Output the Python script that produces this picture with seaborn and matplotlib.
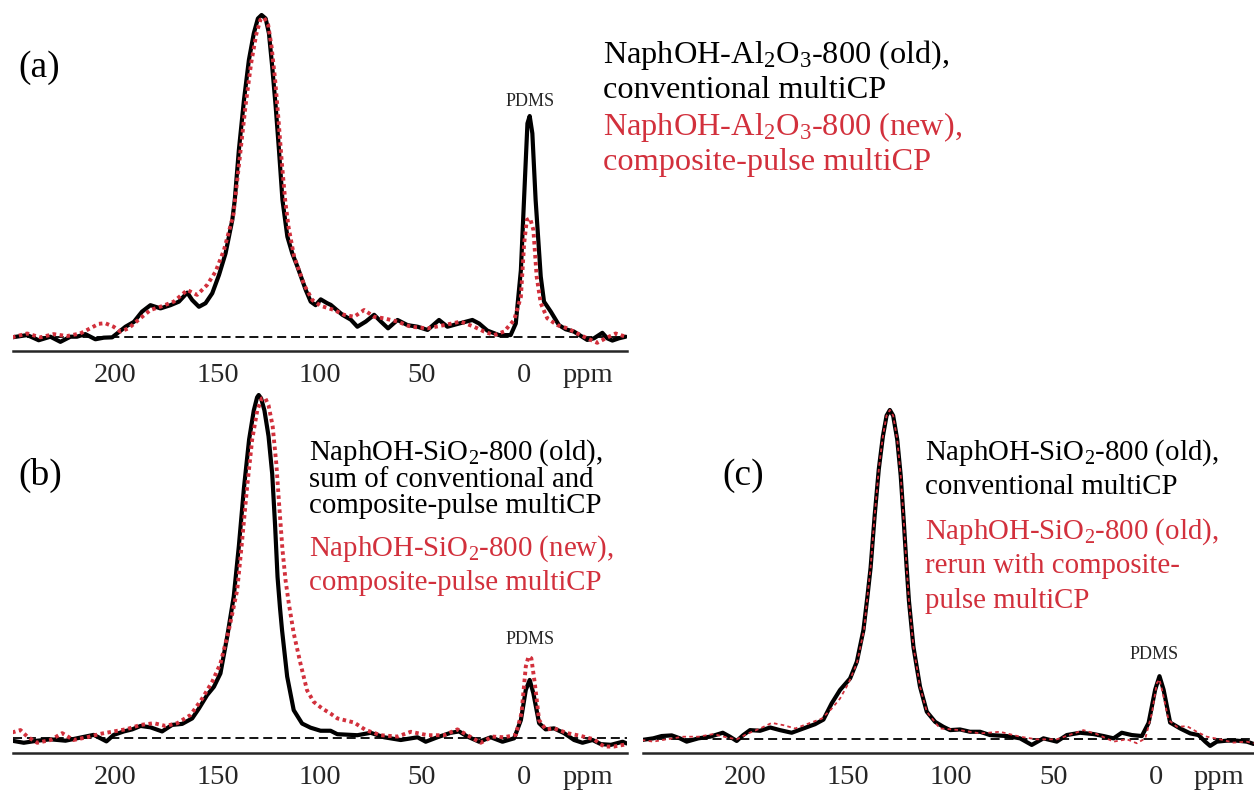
import numpy as np
import pandas as pd
import seaborn as sns
import matplotlib.pyplot as plt
from matplotlib.ticker import FixedLocator

sns.set_style('white')
plt.rcParams['font.family'] = ['Liberation Serif', 'DejaVu Serif']
plt.rcParams['mathtext.fontset'] = 'custom'
plt.rcParams['mathtext.rm'] = 'Liberation Serif'
plt.rcParams['mathtext.it'] = 'Liberation Serif:italic'
plt.rcParams['mathtext.default'] = 'regular'

# axis ticks (ppm)
tick_values = [200, 150, 100, 50, 0]
tick_labels = ['200', '150', '100', '50', '0']
minor_ticks = list(range(-40, 250, 10))
unit_pos = -31

# panel (a): NaphOH-Al2O3-800, old (black) vs new (red)
a_ppm_old = [250.3, 242.9, 237.3, 231.6, 226.7, 221.8, 218.6, 214.5, 209.6, 205.5, 201.4, 199.0, 194.9, 190.8,
             186.8, 182.7, 177.8, 172.9, 168.8, 164.7, 162.3, 159.0, 155.8, 152.5, 149.2, 146.0, 142.7, 141.5,
             139.5, 137.0, 134.6, 132.2, 130.2, 128.4, 126.4, 124.8, 123.2, 121.5, 119.9, 118.2, 115.8, 113.4,
             110.9, 106.8, 104.4, 102.0, 99.5, 96.3, 94.6, 88.9, 84.8, 81.6, 77.5, 73.4, 70.1, 66.6, 62.0, 57.1,
             52.2, 47.3, 41.7, 37.6, 31.9, 25.4, 22.1, 18.1, 12.4, 6.7, 4.2, 1.7, -0.4, -1.5, -2.6, -3.9, -5.5,
             -8.0, -9.6, -12.9, -16.9, -20.2, -24.2, -30.7, -34.0, -38.1, -40.5, -43.0, -46.2, -49.5]
a_int_old = [-0.2, 0.5, -1.1, 0.0, -1.6, 0.0, 0.0, 0.8, -0.8, -0.3, -0.2, 1.0, 3.1, 4.6,
             7.8, 9.8, 8.8, 9.8, 10.9, 13.7, 11.4, 9.3, 10.4, 13.5, 19.2, 25.9, 36.3, 42.5,
             58.0, 73.6, 86.0, 94.3, 98.9, 100.0, 98.9, 94.3, 83.9, 71.5, 58.0, 42.5, 31.1, 25.9,
             21.8, 14.5, 10.9, 9.8, 11.6, 10.4, 9.9, 6.8, 5.3, 3.1, 4.7, 6.8, 4.7, 2.6, 5.2, 3.6,
             3.1, 2.1, 5.2, 3.1, 4.1, 5.2, 4.1, 1.9, 0.5, 0.5, 4.1, 20.7, 50.7, 66.3, 68.6, 63.2, 42.5,
             18.7, 10.9, 7.8, 3.6, 2.3, 1.6, -1.0, -0.5, 1.2, -0.5, -1.2, -0.5, 0.0]
a_ppm_new = [250.3, 242.9, 236.5, 230.0, 223.5, 217.0, 212.1, 208.0, 204.8, 200.7, 197.4, 193.4, 187.7, 182.7,
             177.0, 171.3, 164.7, 159.9, 155.0, 150.9, 146.8, 142.2, 139.0, 136.2, 133.5, 131.0, 129.0, 127.2,
             125.2, 123.5, 121.8, 120.2, 118.5, 116.8, 115.2, 112.5, 107.6, 103.6, 99.5, 93.0, 88.1, 83.2, 78.3,
             73.4, 68.5, 62.0, 55.5, 47.3, 39.2, 31.1, 24.6, 19.7, 14.8, 9.9, 5.0, 1.7, 0.1, -1.2, -2.8, -4.4,
             -6.0, -8.0, -11.2, -16.1, -21.0, -25.9, -30.7, -35.6, -39.7, -44.6, -49.5]
a_int_new = [-0.2, 1.0, -0.2, 0.8, 0.2, 1.0, 2.6, 4.0, 4.2, 3.1, 1.6, 2.6, 5.7, 8.3,
             9.5, 10.9, 14.5, 13.0, 16.1, 20.2, 26.9, 37.8, 56.0, 72.0, 85.0, 94.0, 98.5, 99.2,
             97.0, 90.0, 80.0, 68.0, 54.0, 42.0, 34.0, 24.9, 16.1, 11.4, 9.6, 8.3, 6.8, 6.2, 8.3,
             6.2, 5.7, 4.7, 3.1, 2.6, 3.6, 4.7, 3.1, 1.6, 0.5, 1.6, 5.2, 12.4, 29.0, 36.3, 36.8, 33.2,
             18.7, 10.4, 5.7, 3.6, 2.6, 1.0, -0.5, -1.9, -0.5, 1.0, 0.0]

# panel (b): NaphOH-SiO2-800, old sum (black) vs new (red)
b_ppm_old = [250.3, 244.6, 238.0, 231.5, 224.2, 218.6, 210.4, 207.1, 204.2, 200.6, 195.7, 191.6, 187.5, 182.7,
             177.0, 172.1, 167.2, 162.3, 159.0, 155.0, 151.7, 148.5, 145.2, 142.0, 139.5, 137.0, 134.5, 132.2,
             130.6, 129.8, 128.6, 127.0, 125.0, 123.2, 121.8, 120.6, 119.4, 118.4, 115.9, 112.7, 108.6, 104.5,
             99.6, 94.7, 91.4, 81.6, 75.1, 68.5, 60.4, 52.2, 48.2, 42.5, 36.0, 31.9, 27.8, 22.1, 16.4, 10.7,
             5.0, 1.7, -0.7, -2.6, -4.4, -7.2, -10.4, -14.5, -19.4, -24.3, -28.4, -33.3, -37.4, -42.3, -48.0, -50.0]
b_int_old = [-0.7, -1.3, -0.7, -0.3, -0.7, 0.0, 1.0, 0.0, -0.9, 1.0, 2.0, 2.6, 3.6, 3.2,
             2.0, 3.9, 4.2, 5.8, 8.7, 12.6, 15.0, 18.9, 29.6, 41.3, 56.0, 73.0, 87.0, 95.5,
             99.3, 100.0, 99.0, 95.5, 88.0, 77.0, 62.0, 47.0, 38.0, 31.5, 18.0, 8.2, 4.3, 3.1,
             2.2, 2.2, 1.2, 0.9, 1.6, 0.3, -0.5, 0.3, -1.0, 0.3, 1.6, 2.0, 0.5, -1.0, 0.3, -1.0,
             0.0, 5.3, 14.1, 17.0, 13.1, 4.4, 2.6, 2.9, 1.5, -0.5, -1.3, -0.5, -1.7, -1.9, -1.0, -1.5]
b_ppm_new = [250.3, 246.2, 242.9, 238.0, 231.5, 225.8, 220.3, 213.7, 207.2, 200.6, 194.1, 187.5, 181.0, 175.3,
             169.6, 163.1, 157.4, 152.5, 148.5, 144.4, 140.3, 138.0, 135.5, 133.0, 130.5, 128.3, 126.6, 125.0,
             123.0, 121.2, 119.8, 118.2, 116.7, 115.1, 112.7, 109.4, 106.2, 102.9, 98.8, 94.7, 91.4, 83.2, 77.5,
             70.1, 62.0, 55.5, 47.3, 39.2, 32.7, 27.8, 21.3, 15.6, 9.9, 4.2, 1.4, -0.7, -2.0, -3.4, -5.1, -7.2,
             -10.4, -14.5, -21.0, -27.5, -34.0, -38.9, -43.8, -50.3]
b_int_new = [1.7, 2.4, 0.5, -1.3, -0.5, 1.5, -0.5, 0.3, 1.3, 2.0, 2.7, 3.9, 4.4, 3.6,
             4.4, 6.8, 11.6, 16.5, 21.8, 31.5, 43.2, 57.0, 73.0, 87.0, 95.5, 99.0, 99.1, 97.0,
             91.0, 80.0, 68.0, 55.0, 46.1, 39.3, 30.6, 21.8, 14.0, 10.6, 8.7, 7.2, 5.8, 4.6, 2.4,
             0.9, 0.5, 1.9, 0.9, 0.9, 2.6, 0.9, -1.3, 0.5, 0.3, 1.0, 7.3, 20.9, 23.8, 23.3, 16.0, 5.3,
             2.6, 2.9, 1.5, 0.7, -0.3, -2.4, -2.4, -1.7]

# panel (c): NaphOH-SiO2-800 old, conventional (black) vs composite-pulse rerun (red)
c_ppm_conv = [250.6, 245.0, 240.9, 236.0, 232.0, 228.7, 223.0, 217.3, 211.1, 207.6, 204.3, 201.1, 197.8, 192.9,
              188.0, 183.2, 177.5, 171.8, 166.1, 162.0, 158.0, 153.9, 149.0, 145.7, 142.5, 140.6, 139.0, 137.0,
              135.0, 133.0, 131.2, 129.6, 128.0, 126.0, 124.3, 122.8, 121.5, 120.3, 118.1, 114.9, 111.6, 107.5,
              103.5, 100.2, 95.4, 90.5, 85.6, 80.8, 72.6, 66.1, 60.4, 54.7, 48.2, 43.3, 36.8, 30.3, 25.4, 20.5,
              16.5, 11.6, 6.7, 3.4, 0.2, -1.9, -3.9, -7.1, -12.0, -16.9, -20.9, -24.2, -26.6, -29.9, -34.8,
              -39.6, -44.5, -47.8]
c_int_conv = [-0.3, 0.2, 0.9, 1.1, 0.2, -0.8, 0.2, 0.7, 1.9, 0.7, -0.6, 1.2, 2.7, 2.5,
              3.5, 2.7, 1.9, 3.2, 4.5, 5.9, 10.8, 14.9, 18.4, 23.5, 33.1, 43.0, 52.0, 68.0,
              82.0, 92.0, 98.3, 100.0, 98.3, 91.0, 80.0, 66.0, 53.0, 42.0, 28.0, 15.9, 8.3, 5.2,
              3.7, 2.7, 2.9, 2.2, 2.2, 1.2, 0.9, 0.2, -1.8, 0.2, -0.8, 1.2, 1.9, 1.5, 0.9, 0.2,
              1.9, 1.2, 0.9, 4.9, 15.0, 19.1, 15.0, 5.0, 3.2, 1.7, 1.2, -0.8, -2.1, -0.8, -0.5,
              -0.5, -0.8, -1.5]
c_ppm_rerun = [250.6, 245.0, 238.5, 230.3, 223.0, 215.7, 209.2, 204.3, 199.4, 192.9, 187.2, 181.5, 175.8, 170.2,
               162.8, 158.0, 153.9, 149.8, 145.7, 142.2, 140.6, 139.0, 137.0, 135.0, 133.0, 131.2, 129.6, 128.0,
               126.0, 124.3, 122.8, 121.5, 120.3, 118.1, 114.9, 111.6, 107.5, 105.1, 95.4, 85.6, 75.9, 66.1, 58.0,
               48.2, 35.2, 28.7, 20.5, 14.0, 9.1, 5.0, 1.8, -0.6, -1.9, -3.5, -6.3, -10.4, -15.3, -20.1, -25.0,
               -31.5, -38.0, -44.5, -47.8]
c_int_rerun = [-0.3, -0.8, -0.1, 0.7, 0.7, 1.5, 0.5, -0.1, 1.5, 3.2, 4.9, 4.2, 3.2, 4.5,
               6.2, 9.2, 12.3, 16.9, 23.0, 33.1, 43.0, 52.0, 68.0, 82.0, 92.0, 98.3, 100.0, 98.3,
               91.0, 80.0, 66.0, 53.0, 42.0, 28.0, 15.9, 8.3, 5.0, 3.2, 2.7, 1.7, 2.2, 0.7, -0.1,
               -0.1, 2.7, 1.5, -0.8, -0.1, -1.3, 0.2, 7.8, 17.0, 18.1, 14.0, 5.8, 3.7, 3.9, 2.2, 0.7,
               -0.1, -1.1, -0.8, -1.3]

RED = '#d2303c'
W, H = 1254, 797

fig = plt.figure(figsize=(W / 100, H / 100), dpi=100)


def px_axes(left, top, right, bottom):
    return fig.add_axes([left / W, 1 - bottom / H, (right - left) / W, (bottom - top) / H])


def draw_panel(ax, ppm_k, int_k, ppm_r, int_r, xlim, ylim, red_style):
    sns.lineplot(x=ppm_r, y=int_r, ax=ax, sort=False, estimator=None, color=RED, zorder=4, **red_style)
    sns.lineplot(x=ppm_k, y=int_k, ax=ax, sort=False, estimator=None, color='black', linewidth=3.0,
                 solid_joinstyle='round', solid_capstyle='round', zorder=3)
    ax.axhline(0, color='black', lw=1.3, ls=(0, (5.0, 2.7)), zorder=1)
    ax.set_xlim(*xlim)
    ax.set_ylim(*ylim)
    for s in ['top', 'left', 'right']:
        ax.spines[s].set_visible(False)
    ax.spines['bottom'].set_linewidth(1.8)
    ax.set_yticks([])
    ax.xaxis.set_major_locator(FixedLocator(tick_values + [unit_pos]))
    ax.set_xticklabels(tick_labels + ['ppm'])
    ax.xaxis.set_minor_locator(FixedLocator(minor_ticks))
    ax.tick_params(axis='x', which='major', direction='out', length=7.2, width=1.2, pad=1.5, labelsize=20.5)
    ax.tick_params(axis='x', which='minor', direction='out', length=3.6, width=1.2)
    ax.xaxis.get_major_ticks()[-1].tick1line.set_visible(False)
    ax.set_xlabel('')
    ax.set_ylabel('')
    ax.patch.set_alpha(0)


dotted = dict(linewidth=2.8, linestyle=(0, (0.9, 0.9)))
thin = dict(linewidth=1.3, linestyle=(0, (2, 1.8)))

ax_a = px_axes(12.7, 0, 626.7, 351)
draw_panel(ax_a, a_ppm_old, a_int_old, a_ppm_new, a_int_new, (250, -50), (-14.3 / 3.217, 336.7 / 3.217), dotted)
ax_a.text(-3, 73, 'PDMS', ha='center', va='center', fontsize=13)

ax_b = px_axes(12.7, 385, 626.7, 753.3)
draw_panel(ax_b, b_ppm_old, b_int_old, b_ppm_new, b_int_new, (250, -50), (-15 / 3.433, 353.3 / 3.433), dotted)
ax_b.text(-2.6, 28.9, 'PDMS', ha='center', va='center', fontsize=13)

ax_c = px_axes(643, 385, 1254, 753.3)
draw_panel(ax_c, c_ppm_conv, c_int_conv, c_ppm_rerun, c_int_rerun, (250, -48), (-14.3 / 3.29, 354 / 3.29), thin)
ax_c.text(0.7, 25.8, 'PDMS', ha='center', va='center', fontsize=13)


def ftext(x, y, s, size, color='black'):
    fig.text(x / W, 1 - y / H, s, fontsize=size, color=color, ha='left', va='baseline')


ftext(18, 77, '(a)', 27)
ftext(18, 485, '(b)', 27)
ftext(722, 485, '(c)', 27)

ftext(603, 63.3, 'NaphOH-Al$_2$O$_3$-800 (old),', 23.3)
ftext(603, 98.3, 'conventional multiCP', 23.3)
ftext(603, 135, 'NaphOH-Al$_2$O$_3$-800 (new),', 23.3, RED)
ftext(603, 170, 'composite-pulse multiCP', 23.3, RED)

ftext(309, 460, 'NaphOH-SiO$_2$-800 (old),', 20.8)
ftext(309, 486.7, 'sum of conventional and', 20.8)
ftext(309, 513, 'composite-pulse multiCP', 20.8)
ftext(309, 555.7, 'NaphOH-SiO$_2$-800 (new),', 20.8, RED)
ftext(309, 590, 'composite-pulse multiCP', 20.8, RED)

ftext(925, 460, 'NaphOH-SiO$_2$-800 (old),', 20.8)
ftext(925, 494, 'conventional multiCP', 20.8)
ftext(925, 538.3, 'NaphOH-SiO$_2$-800 (old),', 20.8, RED)
ftext(925, 573.3, 'rerun with composite-', 20.8, RED)
ftext(925, 608.3, 'pulse multiCP', 20.8, RED)

fig.savefig('out.png', dpi=100)
